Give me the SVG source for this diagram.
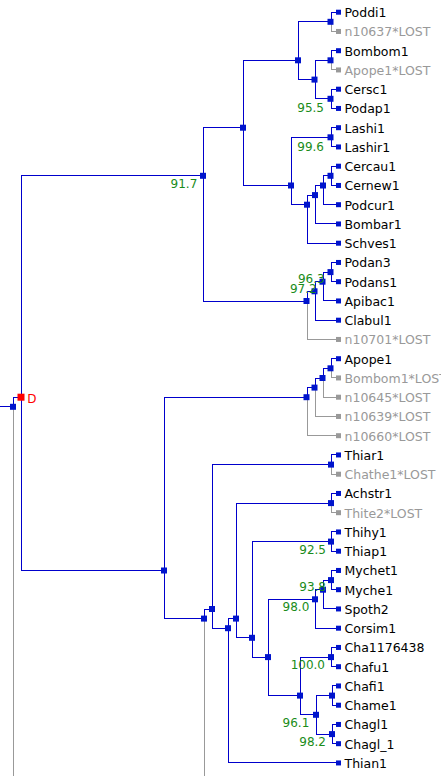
<svg xmlns="http://www.w3.org/2000/svg" width="441" height="776" viewBox="0 0 441 776">
<style>
.b{fill:none;stroke:#0000cc;stroke-width:1}
.g{fill:none;stroke:#999999;stroke-width:1}
.nb{fill:#0014cc}
.ng{fill:#999999}
.nr{fill:#ff0000}
text{font-family:"DejaVu Sans","Liberation Sans",sans-serif;font-size:12px}
.t{fill:#000000;font-size:12.5px}
.tl{fill:#999999;font-size:12.5px}
.lab{fill:#1a8c1a;text-anchor:end}
.d{fill:#ff0000;font-size:12px}
</style>
<rect width="441" height="776" fill="#ffffff"/>
<g id="connectors" shape-rendering="crispEdges">
<path class="b" d="M0 406.8H13.5"/>
<path class="b" d="M13.5 406.8V397.2H21.5"/>
<path class="g" d="M13.5 406.8V776"/>
<path class="b" d="M21.5 397.2V175.8H203.5"/>
<path class="b" d="M21.5 397.2V570.5H164.5"/>
<path class="b" d="M203.5 175.8V127.7H243.5"/>
<path class="b" d="M203.5 175.8V301H307"/>
<path class="b" d="M243.5 127.7V60.3H298.5"/>
<path class="b" d="M243.5 127.7V185.5H291.5"/>
<path class="b" d="M298.5 60.3V21.8H331"/>
<path class="b" d="M298.5 60.3V79.6H315"/>
<path class="b" d="M331 21.8V12.2H336"/>
<path class="g" d="M331 21.8V31.45H336"/>
<path class="b" d="M315 79.6V60.3H331"/>
<path class="b" d="M315 79.6V98.8H331"/>
<path class="b" d="M331 60.3V50.7H336"/>
<path class="g" d="M331 60.3V69.95H336"/>
<path class="b" d="M331 98.8V89.2H336M331 98.8V108.45H336"/>
<path class="b" d="M291.5 185.5V137.3H331"/>
<path class="b" d="M291.5 185.5V204.7H307.5"/>
<path class="b" d="M331 137.3V127.7H336M331 137.3V146.95H336"/>
<path class="b" d="M307.5 204.7V195.1H315.5"/>
<path class="b" d="M307.5 204.7V243.2H336"/>
<path class="b" d="M315.5 195.1V185.5H323.5"/>
<path class="b" d="M315.5 195.1V223.95H336"/>
<path class="b" d="M323.5 185.5V175.8H331"/>
<path class="b" d="M323.5 185.5V204.7H336"/>
<path class="b" d="M331 175.8V166.2H336M331 175.8V185.45H336"/>
<path class="b" d="M307 301V291.3H315"/>
<path class="g" d="M307 301V339.45H336"/>
<path class="b" d="M315 291.3V281.7H323"/>
<path class="b" d="M315 291.3V320.2H336"/>
<path class="b" d="M323 281.7V272.1H331"/>
<path class="b" d="M323 281.7V300.95H336"/>
<path class="b" d="M331 272.1V262.45H336M331 272.1V281.7H336"/>
<path class="b" d="M164.5 570.5V397.2H307"/>
<path class="b" d="M164.5 570.5V618.6H204.5"/>
<path class="b" d="M307 397.2V387.6H315"/>
<path class="g" d="M307 397.2V435.7H336"/>
<path class="b" d="M315 387.6V378H323"/>
<path class="g" d="M315 387.6V416.45H336"/>
<path class="b" d="M323 378V368.3H331"/>
<path class="g" d="M323 378V397.2H336"/>
<path class="b" d="M331 368.3V358.7H336"/>
<path class="g" d="M331 368.3V377.95H336"/>
<path class="b" d="M204.5 618.6V609H212.5"/>
<path class="g" d="M204.5 618.6V776"/>
<path class="b" d="M212.5 609V464.6H331.5"/>
<path class="b" d="M212.5 609V628.2H228.5"/>
<path class="b" d="M331.5 464.6V454.95H336"/>
<path class="g" d="M331.5 464.6V474.2H336"/>
<path class="b" d="M228.5 628.2V618.6H236.5"/>
<path class="b" d="M228.5 628.2V762.95H336"/>
<path class="b" d="M236.5 618.6V503.1H331.5"/>
<path class="b" d="M236.5 618.6V637.8H252.5"/>
<path class="b" d="M331.5 503.1V493.45H336"/>
<path class="g" d="M331.5 503.1V512.7H336"/>
<path class="b" d="M252.5 637.8V541.6H331.5"/>
<path class="b" d="M252.5 637.8V657.1H268.5"/>
<path class="b" d="M331.5 541.6V531.95H336M331.5 541.6V551.2H336"/>
<path class="b" d="M268.5 657.1V599.3H315.5"/>
<path class="b" d="M268.5 657.1V695.6H300.5"/>
<path class="b" d="M315.5 599.3V589.7H323.5"/>
<path class="b" d="M315.5 599.3V628.2H336"/>
<path class="b" d="M323.5 589.7V580.1H331.5"/>
<path class="b" d="M323.5 589.7V608.95H336"/>
<path class="b" d="M331.5 580.1V570.45H336M331.5 580.1V589.7H336"/>
<path class="b" d="M300.5 695.6V657.1H331.5"/>
<path class="b" d="M300.5 695.6V714.8H316.5"/>
<path class="b" d="M331.5 657.1V647.45H336M331.5 657.1V666.7H336"/>
<path class="b" d="M316.5 714.8V695.6H332.5"/>
<path class="b" d="M316.5 714.8V734.1H332.5"/>
<path class="b" d="M332.5 695.6V685.95H336M332.5 695.6V705.2H336"/>
<path class="b" d="M332.5 734.1V724.45H336M332.5 734.1V743.7H336"/>
</g>
<g id="leaves">
<g id="leaf-0"><rect class="nb" x="336" y="9.7" width="5" height="5"/><text class="t" x="344.5" y="17.2">Poddi1</text></g>
<g id="leaf-1"><rect class="ng" x="336" y="28.95" width="5" height="5"/><text class="tl" x="344.5" y="36.45">n10637*LOST</text></g>
<g id="leaf-2"><rect class="nb" x="336" y="48.2" width="5" height="5"/><text class="t" x="344.5" y="55.7">Bombom1</text></g>
<g id="leaf-3"><rect class="ng" x="336" y="67.45" width="5" height="5"/><text class="tl" x="344.5" y="74.95">Apope1*LOST</text></g>
<g id="leaf-4"><rect class="nb" x="336" y="86.7" width="5" height="5"/><text class="t" x="344.5" y="94.2">Cersc1</text></g>
<g id="leaf-5"><rect class="nb" x="336" y="105.95" width="5" height="5"/><text class="t" x="344.5" y="113.45">Podap1</text></g>
<g id="leaf-6"><rect class="nb" x="336" y="125.2" width="5" height="5"/><text class="t" x="344.5" y="132.7">Lashi1</text></g>
<g id="leaf-7"><rect class="nb" x="336" y="144.45" width="5" height="5"/><text class="t" x="344.5" y="151.95">Lashir1</text></g>
<g id="leaf-8"><rect class="nb" x="336" y="163.7" width="5" height="5"/><text class="t" x="344.5" y="171.2">Cercau1</text></g>
<g id="leaf-9"><rect class="nb" x="336" y="182.95" width="5" height="5"/><text class="t" x="344.5" y="190.45">Cernew1</text></g>
<g id="leaf-10"><rect class="nb" x="336" y="202.2" width="5" height="5"/><text class="t" x="344.5" y="209.7">Podcur1</text></g>
<g id="leaf-11"><rect class="nb" x="336" y="221.45" width="5" height="5"/><text class="t" x="344.5" y="228.95">Bombar1</text></g>
<g id="leaf-12"><rect class="nb" x="336" y="240.7" width="5" height="5"/><text class="t" x="344.5" y="248.2">Schves1</text></g>
<g id="leaf-13"><rect class="nb" x="336" y="259.95" width="5" height="5"/><text class="t" x="344.5" y="267.45">Podan3</text></g>
<g id="leaf-14"><rect class="nb" x="336" y="279.2" width="5" height="5"/><text class="t" x="344.5" y="286.7">Podans1</text></g>
<g id="leaf-15"><rect class="nb" x="336" y="298.45" width="5" height="5"/><text class="t" x="344.5" y="305.95">Apibac1</text></g>
<g id="leaf-16"><rect class="nb" x="336" y="317.7" width="5" height="5"/><text class="t" x="344.5" y="325.2">Clabul1</text></g>
<g id="leaf-17"><rect class="ng" x="336" y="336.95" width="5" height="5"/><text class="tl" x="344.5" y="344.45">n10701*LOST</text></g>
<g id="leaf-18"><rect class="nb" x="336" y="356.2" width="5" height="5"/><text class="t" x="344.5" y="363.7">Apope1</text></g>
<g id="leaf-19"><rect class="ng" x="336" y="375.45" width="5" height="5"/><text class="tl" x="344.5" y="382.95">Bombom1*LOST</text></g>
<g id="leaf-20"><rect class="ng" x="336" y="394.7" width="5" height="5"/><text class="tl" x="344.5" y="402.2">n10645*LOST</text></g>
<g id="leaf-21"><rect class="ng" x="336" y="413.95" width="5" height="5"/><text class="tl" x="344.5" y="421.45">n10639*LOST</text></g>
<g id="leaf-22"><rect class="ng" x="336" y="433.2" width="5" height="5"/><text class="tl" x="344.5" y="440.7">n10660*LOST</text></g>
<g id="leaf-23"><rect class="nb" x="336" y="452.45" width="5" height="5"/><text class="t" x="344.5" y="459.95">Thiar1</text></g>
<g id="leaf-24"><rect class="ng" x="336" y="471.7" width="5" height="5"/><text class="tl" x="344.5" y="479.2">Chathe1*LOST</text></g>
<g id="leaf-25"><rect class="nb" x="336" y="490.95" width="5" height="5"/><text class="t" x="344.5" y="498.45">Achstr1</text></g>
<g id="leaf-26"><rect class="ng" x="336" y="510.2" width="5" height="5"/><text class="tl" x="344.5" y="517.7">Thite2*LOST</text></g>
<g id="leaf-27"><rect class="nb" x="336" y="529.45" width="5" height="5"/><text class="t" x="344.5" y="536.95">Thihy1</text></g>
<g id="leaf-28"><rect class="nb" x="336" y="548.7" width="5" height="5"/><text class="t" x="344.5" y="556.2">Thiap1</text></g>
<g id="leaf-29"><rect class="nb" x="336" y="567.95" width="5" height="5"/><text class="t" x="344.5" y="575.45">Mychet1</text></g>
<g id="leaf-30"><rect class="nb" x="336" y="587.2" width="5" height="5"/><text class="t" x="344.5" y="594.7">Myche1</text></g>
<g id="leaf-31"><rect class="nb" x="336" y="606.45" width="5" height="5"/><text class="t" x="344.5" y="613.95">Spoth2</text></g>
<g id="leaf-32"><rect class="nb" x="336" y="625.7" width="5" height="5"/><text class="t" x="344.5" y="633.2">Corsim1</text></g>
<g id="leaf-33"><rect class="nb" x="336" y="644.95" width="5" height="5"/><text class="t" x="344.5" y="652.45">Cha1176438</text></g>
<g id="leaf-34"><rect class="nb" x="336" y="664.2" width="5" height="5"/><text class="t" x="344.5" y="671.7">Chafu1</text></g>
<g id="leaf-35"><rect class="nb" x="336" y="683.45" width="5" height="5"/><text class="t" x="344.5" y="690.95">Chafi1</text></g>
<g id="leaf-36"><rect class="nb" x="336" y="702.7" width="5" height="5"/><text class="t" x="344.5" y="710.2">Chame1</text></g>
<g id="leaf-37"><rect class="nb" x="336" y="721.95" width="5" height="5"/><text class="t" x="344.5" y="729.45">Chagl1</text></g>
<g id="leaf-38"><rect class="nb" x="336" y="741.2" width="5" height="5"/><text class="t" x="344.5" y="748.7">Chagl_1</text></g>
<g id="leaf-39"><rect class="nb" x="336" y="760.45" width="5" height="5"/><text class="t" x="344.5" y="767.95">Thian1</text></g>
</g>
<g id="inner-nodes">
<g id="root"><rect class="nb" x="10" y="403.8" width="6" height="6"/></g>
<g id="dup"><rect class="nr" x="17.5" y="393.7" width="7" height="7"/><text class="d" x="27.3" y="403.3">D</text></g>
<g id="n-M"><rect class="nb" x="200" y="172.8" width="6" height="6"/><text class="lab" x="197.3" y="188.3">91.7</text></g>
<g id="n-F"><rect class="nb" x="240" y="124.7" width="6" height="6"/></g>
<g id="n-B"><rect class="nb" x="295" y="57.3" width="6" height="6"/></g>
<g id="n-A"><rect class="nb" x="327.5" y="18.8" width="6" height="6"/></g>
<g id="n-C"><rect class="nb" x="311.5" y="76.6" width="6" height="6"/></g>
<g id="n-D"><rect class="nb" x="327.5" y="57.3" width="6" height="6"/></g>
<g id="n-E"><rect class="nb" x="327.5" y="95.8" width="6" height="6"/><text class="lab" x="324" y="111.7">95.5</text></g>
<g id="n-G"><rect class="nb" x="288" y="182.5" width="6" height="6"/></g>
<g id="n-H"><rect class="nb" x="327.5" y="134.3" width="6" height="6"/><text class="lab" x="324" y="151">99.6</text></g>
<g id="n-I"><rect class="nb" x="304" y="201.7" width="6" height="6"/></g>
<g id="n-J"><rect class="nb" x="312" y="192.1" width="6" height="6"/></g>
<g id="n-K"><rect class="nb" x="320" y="182.5" width="6" height="6"/></g>
<g id="n-L"><rect class="nb" x="327.5" y="172.8" width="6" height="6"/></g>
<g id="n-N"><rect class="nb" x="303.5" y="298" width="6" height="6"/></g>
<g id="n-O"><rect class="nb" x="311.5" y="288.3" width="6" height="6"/><text class="lab" x="316.7" y="293.3">97.2</text></g>
<g id="n-P"><rect class="nb" x="319.5" y="278.7" width="6" height="6"/><text class="lab" x="324.7" y="283.3">96.3</text></g>
<g id="n-Q"><rect class="nb" x="327.5" y="269.1" width="6" height="6"/></g>
<g id="n-R"><rect class="nb" x="161" y="567.5" width="6" height="6"/></g>
<g id="n-S"><rect class="nb" x="303.5" y="394.2" width="6" height="6"/></g>
<g id="n-T"><rect class="nb" x="311.5" y="384.6" width="6" height="6"/></g>
<g id="n-U"><rect class="nb" x="319.5" y="375" width="6" height="6"/></g>
<g id="n-V"><rect class="nb" x="327.5" y="365.3" width="6" height="6"/></g>
<g id="n-Y"><rect class="nb" x="201" y="615.6" width="6" height="6"/></g>
<g id="n-X"><rect class="nb" x="209" y="606" width="6" height="6"/></g>
<g id="n-W"><rect class="nb" x="328" y="461.6" width="6" height="6"/></g>
<g id="n-Z"><rect class="nb" x="225" y="625.2" width="6" height="6"/></g>
<g id="n-AA"><rect class="nb" x="233" y="615.6" width="6" height="6"/></g>
<g id="n-AB"><rect class="nb" x="328" y="500.1" width="6" height="6"/></g>
<g id="n-AG"><rect class="nb" x="249" y="634.8" width="6" height="6"/></g>
<g id="n-AC"><rect class="nb" x="328" y="538.6" width="6" height="6"/><text class="lab" x="326" y="554">92.5</text></g>
<g id="n-AH"><rect class="nb" x="265" y="654.1" width="6" height="6"/></g>
<g id="n-AD"><rect class="nb" x="312" y="596.3" width="6" height="6"/><text class="lab" x="309.3" y="610.7">98.0</text></g>
<g id="n-AE"><rect class="nb" x="320" y="586.7" width="6" height="6"/><text class="lab" x="326" y="591">93.8</text></g>
<g id="n-AF"><rect class="nb" x="328" y="577.1" width="6" height="6"/></g>
<g id="n-AI"><rect class="nb" x="297" y="692.6" width="6" height="6"/></g>
<g id="n-AJ"><rect class="nb" x="328" y="654.1" width="6" height="6"/><text class="lab" x="325" y="669">100.0</text></g>
<g id="n-AK"><rect class="nb" x="313" y="711.8" width="6" height="6"/><text class="lab" x="309.3" y="726.7">96.1</text></g>
<g id="n-AL"><rect class="nb" x="329" y="692.6" width="6" height="6"/></g>
<g id="n-AM"><rect class="nb" x="329" y="731.1" width="6" height="6"/><text class="lab" x="326" y="745.7">98.2</text></g>
</g>
</svg>
